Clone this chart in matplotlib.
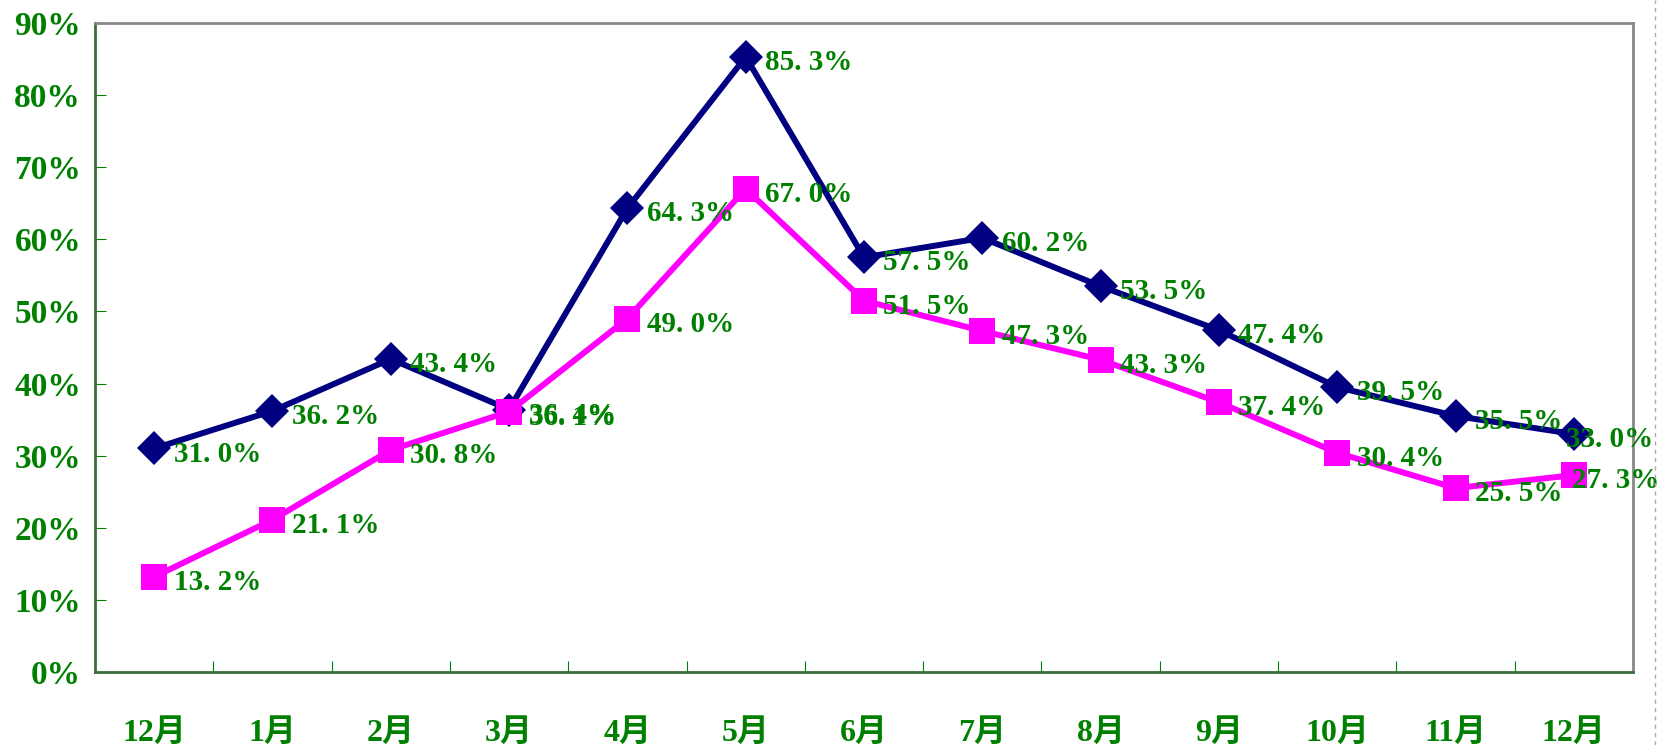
import matplotlib.pyplot as plt
from matplotlib.lines import Line2D

plt.rcParams['font.family'] = ['Liberation Serif', 'Noto Sans CJK SC']
plt.rcParams['font.weight'] = 'bold'

months = ['12月', '1月', '2月', '3月', '4月', '5月', '6月',
          '7月', '8月', '9月', '10月', '11月', '12月']
navy_vals = [31.0, 36.2, 43.4, 36.4, 64.3, 85.3, 57.5, 60.2, 53.5, 47.4, 39.5, 35.5, 33.0]
pink_vals = [13.2, 21.1, 30.8, 36.1, 49.0, 67.0, 51.5, 47.3, 43.3, 37.4, 30.4, 25.5, 27.3]
yticks = [0, 10, 20, 30, 40, 50, 60, 70, 80, 90]

green = '#008000'
x = list(range(len(months)))

fig = plt.figure(figsize=(16.6, 7.45), dpi=100)
ax = fig.add_axes([95 / 1660, 1 - 672 / 745, (1633 - 95) / 1660, (672 - 23) / 745])

ax.plot(x, navy_vals, color='#000080', lw=4.3, marker='D', ms=17,
        markeredgewidth=0, zorder=3)
ax.plot(x, pink_vals, color='#FF00FF', lw=4.3, marker='s', ms=19,
        markeredgewidth=0, zorder=4)

# value labels to the right of each point; the last column is pulled left
for vals, last_dx in ((navy_vals, -6), (pink_vals, -1)):
    for xi, v in zip(x, vals):
        txt = f'{v:.1f}%'.replace('.', '. ')
        dx = last_dx if xi == x[-1] else 14
        ax.annotate(txt, (xi, v), xytext=(dx, -4), textcoords='offset points',
                    ha='left', va='center', color=green, fontsize=21,
                    zorder=5, annotation_clip=False)

ax.set_xlim(-0.5, len(months) - 0.5)
ax.set_ylim(0, 90)
ax.set_yticks(yticks)
ax.set_yticklabels([f'{t}%' for t in yticks])
ax.set_xticks([i + 0.5 for i in range(len(months) - 1)])
ax.set_xticklabels([])
ax.set_xticks(x, minor=True)
ax.set_xticklabels(months, minor=True)

ax.tick_params(axis='x', which='major', direction='in', length=8, color=green)
ax.tick_params(axis='x', which='minor', length=0, pad=34, labelsize=23,
               labelcolor=green)
ax.tick_params(axis='y', direction='in', length=8, color=green, pad=10,
               labelsize=24, labelcolor=green)

ax.spines['left'].set_color('#3a6e3a')
ax.spines['bottom'].set_color('#3a6e3a')
ax.spines['top'].set_color('#888888')
ax.spines['right'].set_color('#888888')
for s in ax.spines.values():
    s.set_linewidth(2)

# dashed border line at the right edge
fig.add_artist(Line2D([1655 / 1660, 1655 / 1660], [0, 1], color='#aaaaaa',
                      lw=1, ls=(0, (3, 3)), transform=fig.transFigure))

fig.savefig('out.png', dpi=100)
